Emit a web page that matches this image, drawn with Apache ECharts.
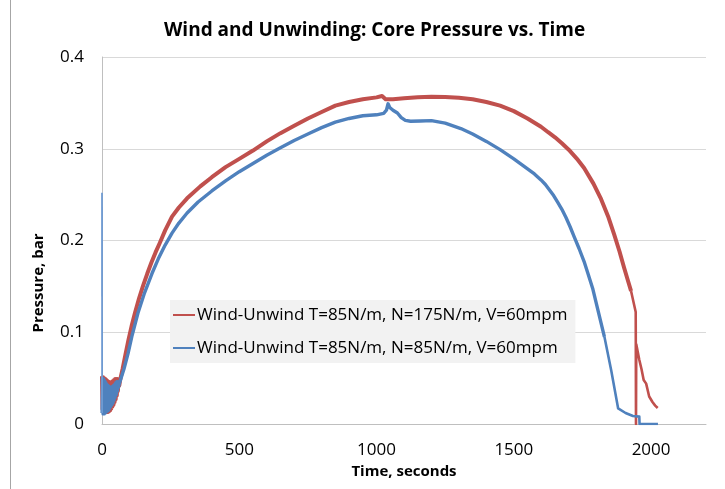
<!DOCTYPE html>
<html>
<head>
<meta charset="utf-8">
<script src="https://cdn.jsdelivr.net/npm/echarts@6/dist/echarts.min.js"></script>
<style>
  html, body { margin: 0; padding: 0; background: #ffffff; }
  #chart { width: 725px; height: 489px; }
</style>
</head>
<body>
<div id="chart"></div>
<script>
// Wind-Unwind T=85N/m, N=175N/m, V=60mpm  (time in s, core pressure in bar)
const redTime = [
  0, 2, 4, 6, 8, 10, 12, 14, 16, 18, 20, 22, 24, 26, 28, 30, 32, 34, 36, 38,
  40, 42, 44, 46, 48, 50, 52, 54, 56, 58, 60, 63,
  66, 75, 85, 96, 108, 120, 135, 150, 165, 180, 195, 210, 230, 255, 280, 310,
  358, 400, 450, 500, 550, 600, 650, 700, 750, 800, 850, 900, 950, 1000, 1020,
  1027, 1033, 1060, 1100, 1150, 1200, 1250, 1300, 1350, 1400, 1450, 1500, 1550,
  1599, 1625, 1650, 1675, 1700, 1730, 1756, 1790, 1818, 1845, 1866, 1885, 1902,
  1915, 1927, 1944, 1945, 1946, 1957, 1965, 1973, 1982, 1993, 2005, 2015, 2024
];
const redPressure = [
  0.052, 0.016, 0.051, 0.015, 0.050, 0.014, 0.049, 0.013, 0.048, 0.013, 0.047, 0.013,
  0.046, 0.014, 0.045, 0.015, 0.045, 0.017, 0.046, 0.019, 0.047, 0.021, 0.048, 0.024,
  0.049, 0.027, 0.049, 0.031, 0.049, 0.036, 0.048, 0.042,
  0.048, 0.060, 0.075, 0.091, 0.107, 0.121, 0.137, 0.151, 0.164, 0.176, 0.187, 0.197,
  0.211, 0.226, 0.236, 0.246, 0.259, 0.269, 0.280, 0.289, 0.298, 0.308, 0.317, 0.325,
  0.333, 0.340, 0.347, 0.351, 0.354, 0.356, 0.3575, 0.359, 0.354, 0.354, 0.355, 0.356,
  0.3567, 0.3565, 0.3555, 0.354, 0.351, 0.347, 0.341, 0.333, 0.324, 0.318, 0.3125,
  0.306, 0.299, 0.289, 0.279, 0.262, 0.245, 0.225, 0.206, 0.188, 0.170, 0.157, 0.145,
  0.122, 0, 0.087, 0.070, 0.060, 0.048, 0.044, 0.030, 0.024, 0.020, 0.0174
];

// Wind-Unwind T=85N/m, N=85N/m, V=60mpm
const blueTime = [
  0, 0.5, 2, 4, 6, 8, 10, 12, 14, 16, 18, 20, 22, 24, 26, 28, 30, 32, 34, 36, 38,
  40, 42, 44, 46, 48, 50, 52, 54, 56, 58, 60, 63,
  66, 80, 95, 110, 131, 155, 182, 205, 230, 255, 280, 310, 350, 400, 450, 500, 550,
  600, 650, 700, 750, 800, 850, 900, 950, 1000, 1026, 1032, 1036, 1042, 1048, 1060,
  1076, 1090, 1105, 1124, 1160, 1200, 1250, 1307, 1350, 1400, 1450, 1500, 1550, 1575,
  1599, 1615, 1630, 1645, 1659, 1675, 1690, 1705, 1720, 1738, 1756, 1770, 1787, 1830,
  1855, 1880, 1907, 1934, 1957, 1958, 2025
];
const bluePressure = [
  0.252, 0.012, 0.050, 0.011, 0.049, 0.011, 0.047, 0.012, 0.045, 0.013, 0.043, 0.014,
  0.042, 0.015, 0.041, 0.017, 0.040, 0.019, 0.040, 0.021, 0.041, 0.023, 0.042, 0.026,
  0.043, 0.029, 0.045, 0.032, 0.046, 0.036, 0.046, 0.040, 0.044,
  0.046, 0.060, 0.077, 0.097, 0.121, 0.143, 0.164, 0.180, 0.195, 0.208, 0.219, 0.230,
  0.242, 0.254, 0.265, 0.275, 0.284, 0.293, 0.301, 0.309, 0.316, 0.323, 0.329, 0.333,
  0.336, 0.337, 0.3386, 0.3375, 0.342, 0.349, 0.345, 0.342, 0.339, 0.334, 0.331, 0.330,
  0.3303, 0.3306, 0.328, 0.322, 0.316, 0.308, 0.299, 0.289, 0.278, 0.2725, 0.266, 0.261,
  0.255, 0.249, 0.242, 0.234, 0.225, 0.215, 0.204, 0.191, 0.177, 0.164, 0.148, 0.095,
  0.058, 0.017, 0.012, 0.0087, 0.008, 0, 0
];

const seriesNames = [
  'Wind-Unwind T=85N/m, N=175N/m, V=60mpm',
  'Wind-Unwind T=85N/m, N=85N/m, V=60mpm'
];
const xTicks = [0, 500, 1000, 1500, 2000];
const yTicks = [0, 0.1, 0.2, 0.3, 0.4];

const FONT = 'Open Sans';
const RED = '#C0504D';
const BLUE = '#4F81BD';

const pairs = (xs, ys) => xs.map((x, i) => [x, ys[i]]);
// one stretch of a curve, between two times (both ends included)
const stretch = (pts, from, to) => pts.filter(p => p[0] >= from && p[0] <= to);

const redPts = pairs(redTime, redPressure);
const bluePts = pairs(blueTime, bluePressure);

function lineSeries(name, data, color, width, z) {
  return {
    name: name,
    type: 'line',
    data: data,
    symbol: 'none',
    color: color,
    lineStyle: { color: color, width: width, join: 'round' },
    emphasis: { disabled: true },
    z: z
  };
}

const chart = echarts.init(document.getElementById('chart'), null, { renderer: 'canvas' });

chart.setOption({
  animation: false,
  backgroundColor: '#ffffff',
  textStyle: { fontFamily: FONT },
  title: {
    text: 'Wind and Unwinding: Core Pressure vs. Time',
    left: 159,
    top: 16,
    textStyle: { fontFamily: FONT, fontSize: 19, fontWeight: 'bold', color: '#000000' }
  },
  grid: { left: 102, right: 19, top: 57, bottom: 65, containLabel: false },
  legend: {
    orient: 'vertical',
    left: 170,
    top: 300,
    data: seriesNames,
    backgroundColor: '#F2F2F2',
    padding: [5, 8, 5, 3],
    itemGap: 13,
    icon: 'rect',
    itemWidth: 22,
    itemHeight: 2,
    textStyle: { fontFamily: FONT, fontSize: 17, color: '#000000', lineHeight: 20, padding: [0, 0, 0, -3] }
  },
  xAxis: {
    type: 'value',
    min: 0,
    max: 2200,
    interval: 500,
    name: 'Time, seconds',
    nameLocation: 'middle',
    nameGap: 39,
    nameTextStyle: { fontFamily: FONT, fontSize: 15, fontWeight: 'bold', color: '#000000' },
    axisLine: { show: true, lineStyle: { color: '#BFBFBF', width: 1 } },
    axisTick: { show: false },
    splitLine: { show: false },
    axisLabel: {
      showMaxLabel: false,
      margin: 18,
      fontFamily: FONT,
      fontSize: 17,
      color: '#000000',
      formatter: v => (xTicks.indexOf(v) >= 0 ? String(v) : '')
    }
  },
  yAxis: {
    type: 'value',
    min: 0,
    max: 0.4,
    interval: 0.1,
    axisLine: { show: true, lineStyle: { color: '#BFBFBF', width: 1 } },
    axisTick: { show: false },
    splitLine: { show: true, lineStyle: { color: '#D9D9D9', width: 1 } },
    axisLabel: {
      margin: 18,
      fontFamily: FONT,
      fontSize: 17,
      color: '#000000',
      formatter: v => {
        const t = yTicks.find(y => Math.abs(y - v) < 1e-9);
        return t === undefined ? '' : String(t);
      }
    }
  },
  graphic: [
    {
      type: 'text',
      x: 39,
      y: 283,
      rotation: Math.PI / 2,
      style: {
        text: 'Pressure, bar',
        fontFamily: FONT,
        fontSize: 15,
        fontWeight: 'bold',
        fill: '#000000',
        textAlign: 'center',
        textVerticalAlign: 'middle'
      }
    },
    {
      type: 'line',
      shape: { x1: 10.5, y1: 0, x2: 10.5, y2: 489 },
      style: { stroke: '#A6A6A6', lineWidth: 1 }
    }
  ],
  series: [
    // N=175N/m run: full-width trace, then the thinner run-out after the drop
    lineSeries(seriesNames[0], stretch(redPts, 0, 1927), RED, 4, 2),
    lineSeries(seriesNames[0], stretch(redPts, 1927, 3000), RED, 2.6, 2),
    // N=85N/m run: main trace, start-up spike and run-out
    lineSeries(seriesNames[1], stretch(bluePts, 0.5, 1830), BLUE, 3.4, 3),
    lineSeries(seriesNames[1], stretch(bluePts, 0, 0.5), '#6E9AD2', 1.8, 3),
    lineSeries(seriesNames[1], stretch(bluePts, 1830, 3000), BLUE, 2.6, 3)
  ]
});
</script>
</body>
</html>
